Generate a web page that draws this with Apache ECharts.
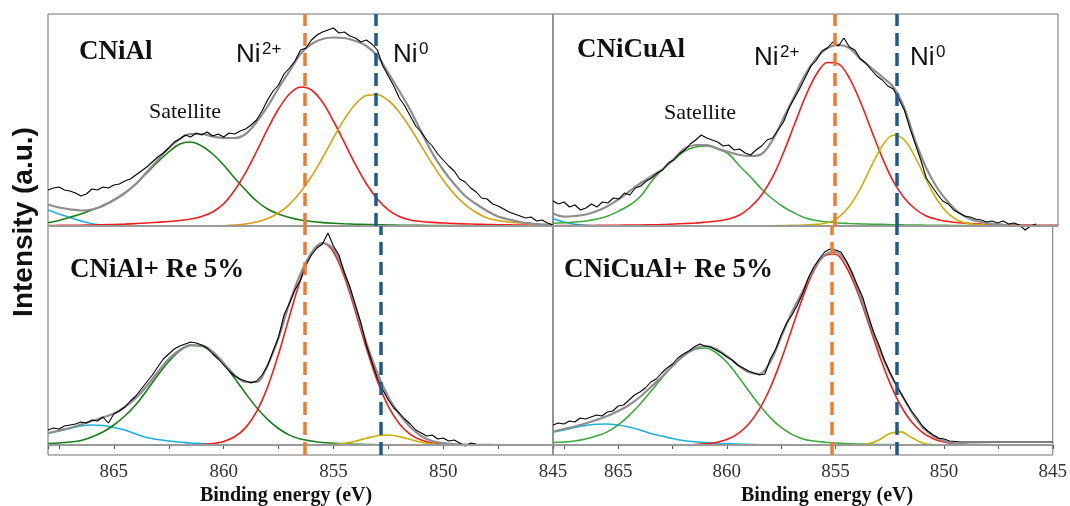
<!DOCTYPE html>
<html>
<head>
<meta charset="utf-8">
<script src="https://cdn.jsdelivr.net/npm/echarts@6/dist/echarts.min.js"></script>
<style>
html, body { margin: 0; background: #fff; }
#main { width: 1070px; height: 506px; }
</style>
</head>
<body>
<div id="main"></div>
<script>
// binding energy grids (eV)
var energy = [868, 867.5, 867, 866.5, 866, 865.5, 865, 864.5, 864, 863.5,
  863, 862.5, 862, 861.5, 861, 860.5, 860, 859.5, 859, 858.5,
  858, 857.5, 857, 856.5, 856, 855.5, 855, 854.5, 854, 853.5,
  853, 852.5, 852, 851.5, 851, 850.5, 850, 849.5, 849, 848.5,
  848, 847.5, 847, 846.5, 846, 845.5, 845];
var energyFine = [868, 867.75, 867.5, 867.25, 867, 866.75, 866.5, 866.25,
  866, 865.75, 865.5, 865.25, 865, 864.75, 864.5, 864.25,
  864, 863.75, 863.5, 863.25, 863, 862.75, 862.5, 862.25,
  862, 861.75, 861.5, 861.25, 861, 860.75, 860.5, 860.25,
  860, 859.75, 859.5, 859.25, 859, 858.75, 858.5, 858.25,
  858, 857.75, 857.5, 857.25, 857, 856.75, 856.5, 856.25,
  856, 855.75, 855.5, 855.25, 855, 854.75, 854.5, 854.25,
  854, 853.75, 853.5, 853.25, 853, 852.75, 852.5, 852.25,
  852, 851.75, 851.5, 851.25, 851, 850.75, 850.5, 850.25,
  850, 849.75, 849.5, 849.25, 849, 848.75, 848.5, 848.25,
  848, 847.75, 847.5, 847.25, 847, 846.75, 846.5, 846.25,
  846, 845.75, 845.5, 845.25, 845];
var tickStep = 2.5;

// ---- CNiAl ----
var measA = [36, 38, 39, 36, 35, 33, 30, 32, 37, 36, 39, 38, 41, 42, 45, 47,
  51, 55, 59, 64, 69, 73, 78, 84, 87, 91, 89, 93, 91, 94, 90, 92,
  89, 93, 92, 95, 97, 101, 106, 115, 126, 135, 141, 152, 158, 165, 176, 178,
  186, 191, 194, 196, 198, 193, 194, 190, 188, 184, 186, 182, 176, 160, 150, 140,
  128, 120, 110, 100, 94, 86, 80, 72, 66, 60, 55, 47, 44, 38, 34, 28,
  27, 22, 20, 17, 14, 12, 10, 8, 9, 5, 6, 3, 1];
var fitA = [21.5, 18.5, 16.7, 15.5, 16.5, 20, 26, 33, 42, 54,
  66, 78, 87, 92, 92, 89.5, 88, 88, 92, 104,
  119.5, 138, 155, 172, 182, 187, 188.5, 188, 185, 180,
  170, 153, 135, 116, 94, 73, 56, 42, 30, 22,
  15, 9.5, 6.5, 4, 2.5, 1.5, 1];
var ni2A = [0.5, 0.6, 0.7, 0.8, 1.0, 1.2, 1.5, 1.9, 2.4, 3.0,
  3.8, 4.5, 5.5, 7, 9.5, 14, 22.2, 35.7, 53.4, 74.5,
  96.8, 117, 132, 139, 136, 124, 105, 83.4, 61.6, 42.3,
  27.1, 16.2, 9.5, 6, 4.5, 3.6, 3.0, 2.5, 2.1, 1.8,
  1.5, 1.3, 1.1, 0.9, 0.8, 0.7, 0.6];
var ni0A = [0, 0, 0, 0, 0, 0, 0, 0, 0, 0,
  0, 0, 0, 0, 0, 0.1, 0.3, 0.9, 2, 4,
  7.4, 13.1, 21.7, 33.9, 49.5, 68.1, 88, 106.9, 121.8, 130.5,
  131.3, 125.5, 113.8, 98, 80.1, 62.2, 45.8, 32.1, 21.3, 13.5,
  8.1, 5.5, 4, 3, 2.3, 1.8, 1.4];
var satA = [3.3, 5.5, 8.7, 12, 16, 20.5, 26, 33, 42, 53,
  64, 74, 82, 84, 80, 72, 61, 48, 36, 25,
  17, 12, 8.5, 6, 4.5, 3.4, 2.7, 2.2, 1.8, 1.5,
  1.2, 1.0, 0.8, 0.7, 0.6, 0.5, 0.4, 0.4, 0.3, 0.3,
  0.2, 0.2, 0.2, 0.1, 0.1, 0.1, 0.1];
var bgA = [16, 12, 8.5, 5, 2.3, 0.8, 0.3, 0, 0, 0,
  0, 0, 0, 0, 0, 0, 0, 0, 0, 0,
  0, 0, 0, 0, 0, 0, 0, 0, 0, 0,
  0, 0, 0, 0, 0, 0, 0, 0, 0, 0,
  0, 0, 0, 0, 0, 0, 0];

// ---- CNiCuAl ----
var measB = [25, 22, 24, 19, 21, 16, 18, 22, 19, 24, 23, 28, 27, 33, 31, 38,
  40, 45, 48, 53, 56, 63, 66, 72, 76, 82, 86, 91, 88, 86, 84, 80,
  81, 76, 77, 73, 71, 76, 80, 86, 88, 96, 104, 118, 128, 138, 149, 160,
  166, 175, 178, 184, 180, 188, 179, 176, 167, 163, 156, 150, 146, 140, 137, 127,
  116, 98, 82, 66, 48, 40, 32, 25, 22, 16, 13, 10, 9, 7, 6, 4,
  5, 3, 5, 2, 3, 1, -4, 0, 2, null, null, null, null];
var fitB = [12.8, 9.4, 10, 11.5, 15, 20, 27, 35, 43, 50,
  57, 67, 77.5, 81, 81, 77.5, 74, 71, 70, 72,
  86, 108, 130, 152, 168, 178, 181, 178, 167, 158,
  149, 139, 118, 85, 58, 38, 24, 13, 7, 4,
  2.2, 1.2, 0.5, 0.3, 0.2, 0.1, 0.1];
var ni2B = [0.3, 0.4, 0.5, 0.5, 0.6, 0.7, 0.8, 0.9, 1.0, 1.2,
  1.5, 2, 2.5, 3, 4, 5, 7, 11, 19, 31,
  48.8, 73.5, 101.7, 129.5, 151.7, 163.5, 162.1, 147.9, 124.2, 95.9,
  68.2, 44.6, 28, 17, 10, 6.5, 4.5, 3.2, 2.5, 2,
  1.6, 1.3, 1.1, 0.9, 0.8, 0.7, 0.6];
var ni0B = [0, 0, 0, 0, 0, 0, 0, 0, 0, 0,
  0, 0, 0, 0, 0, 0, 0, 0, 0.1, 0.2,
  0.3, 0.4, 0.6, 1, 1.6, 3.2, 8.7, 19.7, 37.4, 59.8,
  80.3, 90.7, 86.1, 68.7, 46.1, 26, 12.3, 4.9, 2.2, 1.1,
  0.7, 0.5, 0.4, 0.3, 0.3, 0.2, 0.2];
var satB = [2.7, 3.2, 4, 5, 7, 10, 15, 21, 30, 45,
  57, 66, 75, 79, 80, 77, 72, 60, 49, 37,
  27, 19, 13, 8, 5.5, 4, 3, 2.5, 2.1, 1.8,
  1.6, 1.3, 1.1, 1, 0.8, 0.7, 0.6, 0.5, 0.5, 0.4,
  0.4, 0.3, 0.3, 0.2, 0.2, 0.2, 0.2];
var bgB = [7.5, 4, 1.8, 0.7, 0.2, 0, 0, 0, 0, 0,
  0, 0, 0, 0, 0, 0, 0, 0, 0, 0,
  0, 0, 0, 0, 0, 0, 0, 0, 0, 0,
  0, 0, 0, 0, 0, 0, 0, 0, 0, 0,
  0, 0, 0, 0, 0, 0, 0];

// ---- CNiAl+ Re 5% ----
var measC = [15, 17, 16, 19, 20, 21, 23, 22, 25, 24, 28, 22, 31, 34, 38, 44,
  49, 56, 63, 70, 78, 86, 91, 96, 99, 101, 103, 102, 100, 97, 91, 86,
  80, 74, 69, 66, 64, 62, 64, 70, 79, 94, 108, 130, 142, 155, 165, 180,
  190, 197, 201, 212, 199, 190, 172, 158, 140, 122, 100, 83, 67, 55, 45, 37,
  32, 26, 21, 15, 12, 9, 10, 6, 7, 4, 5, 2, -1, 2, 1, null,
  null, null, null, null, null, null, null, null, null, null, null, null, null];
var fitC = [12, 14.5, 17, 20.5, 24, 27.5, 31.5, 38, 47, 59,
  73, 86, 95, 100, 99.5, 93.5, 82, 70, 63, 63,
  80, 107, 142, 171, 192, 202, 196, 172, 138, 102,
  72, 48, 31, 18, 9, 4, 1.8, 0.8, 0.4, 0.2,
  0.1, 0, 0, 0, 0, 0, 0];
var ni2C = [0, 0, 0, 0, 0, 0, 0, 0, 0, 0,
  0, 0, 0, 0.2, 0.5, 1.4, 3.5, 8.2, 17.4, 33.4,
  57.9, 90.8, 128.8, 165, 192, 202, 193, 168.1, 133.6, 96.9,
  64.1, 38.7, 21.3, 10.7, 4.9, 2, 0.8, 0.3, 0.1, 0,
  0, 0, 0, 0, 0, 0, 0];
var ni0C = [0, 0, 0, 0, 0, 0, 0, 0, 0, 0,
  0, 0, 0, 0, 0, 0, 0, 0, 0, 0,
  0, 0, 0, 0, 0, 0, 0.6, 1.6, 3.8, 6.7,
  9.2, 10, 8.4, 5.5, 2.8, 1.1, 0.3, 0, 0, 0,
  0, 0, 0, 0, 0, 0, 0];
var satC = [1.5, 2, 3, 4.5, 8, 13, 20, 29, 40.2, 54.6,
  69.7, 83.5, 94.1, 99.5, 98.9, 92.3, 81, 66.7, 51.6, 37.5,
  25.6, 16.5, 9.9, 6, 4, 2.5, 1.8, 1.2, 0.8, 0.5,
  0.3, 0.2, 0.1, 0.1, 0.1, 0.1, 0.1, 0.1, 0.1, 0.1,
  0.1, 0.1, 0.1, 0.1, 0.1, 0.1, 0.1];
var bgC = [11.5, 14, 16.5, 19, 20, 19.5, 17.5, 15, 11, 7.5,
  5.5, 4, 3, 2, 1.5, 1, 0.5, 0.2, 0, 0,
  0, 0, 0, 0, 0, 0, 0, 0, 0, 0,
  0, 0, 0, 0, 0, 0, 0, 0, 0, 0,
  0, 0, 0, 0, 0, 0, 0];

// ---- CNiCuAl+ Re 5% ----
var measD = [20, 22, 21, 24, 23, 27, 26, 28, 30, 29, 33, 34, 39, 40, 45, 50,
  53, 57, 63, 66, 72, 77, 81, 87, 91, 94, 98, 101, 99, 98, 95, 92,
  88, 85, 80, 77, 74, 72, 70, 71, 86, 96, 110, 122, 130, 140, 152, 167,
  178, 186, 193, 196, 195, 193, 184, 173, 160, 148, 130, 113, 100, 85, 73, 62,
  52, 43, 34, 27, 19, 14, 10, 7, 6, 4, 3.5, 3, 3, 3, 3, 3,
  3, 3, 3, 3, 3, 3, 3, 3, 3, 3, 3, 3, 3];
var fitD = [13.5, 16, 18.5, 21.5, 25, 29, 34, 40, 48, 58,
  68, 79, 89, 96, 99, 96, 89, 80, 73, 71,
  83, 108, 133, 154, 176, 190, 193, 183, 158, 127,
  97, 72, 52, 33, 18, 9, 4, 1.7, 0.7, 0.3,
  0.1, 0, 0, 0, 0, 0, 0];
var ni2D = [0, 0, 0, 0, 0, 0, 0, 0, 0, 0,
  0, 0, 0, 0.4, 1.1, 2.5, 5.5, 11.1, 20.7, 35.8,
  57.3, 84.9, 116.5, 147.9, 174, 189.3, 190.8, 178, 153.7, 123,
  91, 62.4, 39.5, 23.2, 12.6, 6.3, 3, 1.3, 0.5, 0.2,
  0, 0, 0, 0, 0, 0, 0];
var ni0D = [0, 0, 0, 0, 0, 0, 0, 0, 0, 0,
  0, 0, 0, 0, 0, 0, 0, 0, 0, 0,
  0, 0, 0, 0, 0, 0, 0, 0, 0.1, 1.1,
  5, 11.4, 13.1, 7.5, 2.1, 0.3, 0, 0, 0, 0,
  0, 0, 0, 0, 0, 0, 0];
var satD = [2.5, 3, 4, 6, 9, 13.1, 20.2, 29.4, 40.7, 53.5,
  66.8, 79.2, 89.2, 95.4, 97, 92.5, 82.7, 69.3, 54.3, 39.9,
  27.4, 17.6, 10.6, 6, 4, 2.8, 2, 1.4, 1, 0.7,
  0.5, 0.4, 0.3, 0.2, 0.2, 0.2, 0.1, 0.1, 0.1, 0.1,
  0.1, 0.1, 0.1, 0.1, 0.1, 0.1, 0.1];
var bgD = [13, 15, 17.5, 19.5, 20.7, 21, 20, 18, 15, 11.5,
  9, 6.5, 4.5, 3.2, 2.5, 1.8, 1.3, 1, 0.6, 0.3,
  0.1, 0, 0, 0, 0, 0, 0, 0, 0, 0,
  0, 0, 0, 0, 0, 0, 0, 0, 0, 0,
  0, 0, 0, 0, 0, 0, 0];

// reference lines: Ni2+ and Ni0 positions per panel (eV)
var ni2Line = [856.3, 855.19, 856.3, 855.19];
var ni0Line = [853.07, 852.35, 852.85, 852.18];
var sampleNames = ['CNiAl', 'CNiCuAl', 'CNiAl+ Re 5%', 'CNiCuAl+ Re 5%'];

var chart = echarts.init(document.getElementById('main'));

function xy(xs, ys) {
  return ys.map(function (v, i) { return [xs[i], v]; });
}

var panels = [
  { meas: measA, fit: fitA, parts: [bgA, satA, ni2A, ni0A], green: '#177f17', gold: '#d8a010' },
  { meas: measB, fit: fitB, parts: [bgB, satB, ni2B, ni0B], green: '#3aab3a', gold: '#c8b200' },
  { meas: measC, fit: fitC, parts: [bgC, satC, ni2C, ni0C], green: '#177f17', gold: '#c8b200' },
  { meas: measD, fit: fitD, parts: [bgD, satD, ni2D, ni0D], green: '#3aab3a', gold: '#c8b200' }
];

var grids = [
  { left: 48, top: 14, width: 505, height: 212 },
  { left: 553, top: 14, width: 505, height: 212 },
  { left: 48, top: 226, width: 505, height: 229 },
  { left: 553, top: 226, width: 505, height: 229 }
];
grids.forEach(function (g) {
  g.show = true;
  g.borderColor = '#707070';
  g.borderWidth = 1;
  g.backgroundColor = 'transparent';
});

var xAxes = [], yAxes = [], series = [];
panels.forEach(function (p, i) {
  var bottom = i >= 2;
  xAxes.push({
    gridIndex: i, type: 'value', min: 845, max: 868, interval: tickStep, inverse: true,
    axisLine: { show: false },
    splitLine: { show: false },
    axisTick: { show: bottom, length: 4, lineStyle: { color: '#555' } },
    axisLabel: {
      show: bottom, margin: 8, showMinLabel: true, showMaxLabel: true,
      color: '#333', fontSize: 19, fontFamily: 'Liberation Serif',
      formatter: function (v) { return v % 5 === 0 ? String(v) : ''; }
    }
  });
  yAxes.push({ gridIndex: i, type: 'value', show: false, min: bottom ? -10 : 0, max: bottom ? 219 : 212 });

  var colors = ['#1eb0dc', p.green, '#f31c1c', p.gold];
  // baseline
  series.push({
    type: 'line', xAxisIndex: i, yAxisIndex: i, data: [], z: 1, silent: true,
    markLine: {
      silent: true, symbol: ['none', 'none'], label: { show: false },
      lineStyle: { color: '#9a9a9a', type: 'solid', width: 2 },
      data: [{ yAxis: 0 }]
    }
  });
  p.parts.forEach(function (arr, k) {
    series.push({
      type: 'line', xAxisIndex: i, yAxisIndex: i, data: xy(energy, arr),
      showSymbol: false, smooth: 0.35, z: 2, silent: true,
      lineStyle: { color: colors[k], width: 1.6 }
    });
  });
  series.push({
    type: 'line', xAxisIndex: i, yAxisIndex: i, data: xy(energy, p.fit),
    showSymbol: false, smooth: 0.35, z: 3, silent: true,
    lineStyle: { color: '#8e8e8e', width: 2.2 }
  });
  series.push({
    type: 'line', xAxisIndex: i, yAxisIndex: i, data: xy(energyFine, p.meas),
    showSymbol: false, z: 4, silent: true, clip: false,
    lineStyle: { color: '#000', width: 1.1 },
    markLine: {
      silent: true, symbol: ['none', 'none'], label: { show: false },
      data: [
        { xAxis: ni2Line[i], lineStyle: { color: '#ee7b30', type: [13, 7], width: 3.5 } },
        { xAxis: ni0Line[i], lineStyle: { color: '#1c5c8c', type: [13, 7], width: 3.5 } }
      ]
    }
  });
});

function txt(s, x, y, font, extra) {
  var st = { text: s, font: font, fill: '#111', textAlign: 'left', textVerticalAlign: 'middle' };
  for (var k in (extra || {})) st[k] = extra[k];
  return { type: 'text', x: x, y: y, silent: true, z: 100, style: st };
}
var bigSerif = 'bold 27px "Liberation Serif"';
var satFont = '22px "Liberation Serif"';
var niFont = '26px "Liberation Sans"';
var supFont = '17px "Liberation Sans"';
var axFont = 'bold 20px "Liberation Serif"';

var graphics = [
  txt(sampleNames[0], 79, 52, bigSerif),
  txt(sampleNames[1], 577, 50, bigSerif),
  txt(sampleNames[2], 70, 270, bigSerif),
  txt(sampleNames[3], 564, 270, bigSerif),
  txt('Satellite', 149, 112, satFont),
  txt('Satellite', 664, 113, satFont),
  txt('Ni', 236, 55, niFont), txt('2+', 262, 49, supFont),
  txt('Ni', 393, 55, niFont), txt('0', 419, 49, supFont),
  txt('Ni', 754, 58, niFont), txt('2+', 780, 52, supFont),
  txt('Ni', 910, 58, niFont), txt('0', 936, 52, supFont),
  { type: 'text', x: 24, y: 222, rotation: Math.PI / 2, silent: true, z: 100,
    style: { text: 'Intensity (a.u.)', font: 'bold 28px "Liberation Sans"', fill: '#111',
      textAlign: 'center', textVerticalAlign: 'middle' } },
  txt('Binding energy (eV)', 286, 496, axFont, { textAlign: 'center' }),
  txt('Binding energy (eV)', 827, 496, axFont, { textAlign: 'center' })
];

var option = {
  animation: false,
  backgroundColor: '#fff',
  grid: grids,
  xAxis: xAxes,
  yAxis: yAxes,
  series: series,
  graphic: graphics
};
option && chart.setOption(option);
</script>
</body>
</html>
